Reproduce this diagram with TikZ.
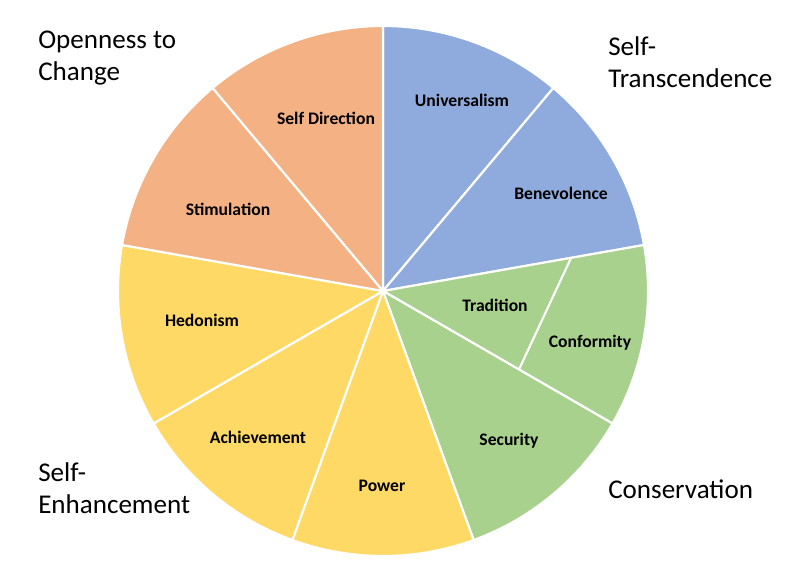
\documentclass[tikz,border=0pt]{standalone}
\usepackage{fontspec}
\setmainfont{Carlito}
\usepackage{tikz}

\definecolor{valblue}{HTML}{8FAADC}
\definecolor{valgreen}{HTML}{A9D18E}
\definecolor{valyellow}{HTML}{FFD966}
\definecolor{valorange}{HTML}{F4B183}

\tikzset{
  wedge/.style={draw=white, line width=1.6pt, line join=round},
  value/.style={font=\fontsize{13.2}{15}\selectfont\bfseries, inner sep=0pt},
  group/.style={font=\fontsize{20.3}{24}\selectfont, align=left, anchor=west, inner sep=0pt}
}

\begin{document}
\begin{tikzpicture}[x=0.75pt,y=0.75pt]
    \useasboundingbox (-383,-278) rectangle (424,291);
    % nine wedges of 40 degrees
    \foreach \a/\b/\c in {90/50/valblue,50/10/valblue,10/-30/valgreen,-30/-70/valgreen,
                          -70/-110/valyellow,-110/-150/valyellow,-150/-190/valyellow,
                          170/130/valorange,130/90/valorange}{
        \filldraw[wedge, fill=\c] (0,0) -- (\a:265) arc[start angle=\a, end angle=\b, radius=265] -- cycle;
    }
    % split of tradition / conformity
    \draw[wedge] (10:191) -- (-30:157);

    \node[value] (univ) at (79,191) {Universalism};
    \node[value] (bene) at (178,98) {Benevolence};
    \node[value] (trad) at (112,-14) {Tradition};
    \node[value] (conf) at (207,-52) {Conformity};
    \node[value] (secu) at (126,-150) {Security};
    \node[value] (powr) at (-1,-195) {Power};
    \node[value] (achv) at (-125,-146) {Achievement};
    \node[value] (hedo) at (-181,-29) {Hedonism};
    \node[value] (stim) at (-155,82) {Stimulation};
    \node[value] (sdir) at (-57,173) {Self Direction};

    \node[group] (open) at (-345,233) {Openness to\\Change};
    \node[group] (trans) at (225,229) {Self-\\Transcendence};
    \node[group] (enh) at (-345,-197) {Self-\\Enhancement};
    \node[group] (cons) at (225,-198) {Conservation};
\end{tikzpicture}
\end{document}
